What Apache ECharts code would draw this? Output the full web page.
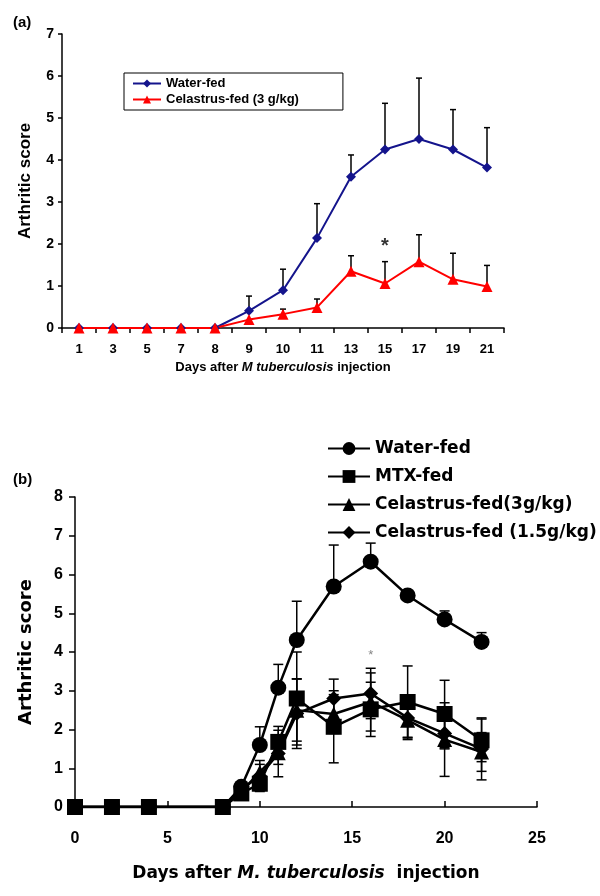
<!DOCTYPE html>
<html><head><meta charset="utf-8">
<script src="https://cdn.jsdelivr.net/npm/echarts@6/dist/echarts.min.js"></script>
<style>html,body{margin:0;padding:0;background:#fff}#c{width:600px;height:896px}</style>
</head><body><div id="c"></div>
<script>
// Panel (a)
var daysA = ['1','3','5','7','8','9','10','11','13','15','17','19','21'];
var waterA = [0,0,0,0,0,0.41,0.9,2.14,3.6,4.25,4.5,4.25,3.82];
var waterAErr = [0,0,0,0,0,0.35,0.5,0.82,0.52,1.1,1.45,0.95,0.95];
var celA = [0,0,0,0,0,0.2,0.33,0.49,1.35,1.06,1.58,1.16,0.99];
var celAErr = [0,0,0,0,0,0,0.12,0.2,0.37,0.52,0.64,0.62,0.5];
var starA = [['15', 1.95]];
var yTicksA = [0,1,2,3,4,5,6,7];
// Panel (b)
var daysB = [0,2,4,8,9,10,11,12,14,16,18,20,22];
var waterB = [0,0,0,0,0.52,1.6,3.08,4.31,5.69,6.33,5.46,4.84,4.26];
var waterBErr = [0,0,0,0,0.1,0.47,0.6,1.0,1.07,0.48,0.1,0.22,0.24];
var mtxB = [0,0,0,0,0.35,0.6,1.68,2.8,2.07,2.52,2.71,2.4,1.72];
var mtxBErr = [0,0,0,0,0.1,0.2,0.4,1.2,0.93,0.7,0.93,0.87,0.55];
var cel3B = [0,0,0,0,0.4,0.9,1.4,2.5,2.4,2.71,2.24,1.74,1.42];
var cel3BErr = [0,0,0,0,0.1,0.3,0.3,0.8,0.5,0.75,0.5,0.95,0.5];
var cel15B = [0,0,0,0,0.45,0.8,1.38,2.41,2.8,2.93,2.3,1.9,1.5];
var cel15BErr = [0,0,0,0,0.1,0.3,0.6,0.9,0.5,0.65,0.5,0.4,0.8];
var starB = [[16, 3.9]];
var xTicksB = [0,5,10,15,20,25];
var yTicksB = [0,1,2,3,4,5,6,7,8];

var F = 'Liberation Sans, Arial, sans-serif';
var V = 'DejaVu Sans, Verdana, sans-serif';
function pairs(xs, ys){ return xs.map(function(x,i){ return [x, ys[i]]; }); }
function errData(xs, ys, es){ return xs.map(function(x,i){ return [x, ys[i], es[i]]; }).filter(function(d){ return d[2] > 0; }); }
function errSeries(xi, yi, data, sym, cap){
  return {
    type:'custom', xAxisIndex:xi, yAxisIndex:yi, z:1, silent:true,
    renderItem:function(params, api){
      var x = api.value(0), y = api.value(1), e = api.value(2);
      var top = api.coord([x, y + e]);
      var bot = api.coord([x, sym ? y - e : y]);
      var st = {stroke:'#000', lineWidth:1.5, fill:null};
      var ch = [
        {type:'line', shape:{x1:top[0], y1:top[1], x2:bot[0], y2:bot[1]}, style:st},
        {type:'line', shape:{x1:top[0]-cap, y1:top[1], x2:top[0]+cap, y2:top[1]}, style:st}
      ];
      if (sym) ch.push({type:'line', shape:{x1:bot[0]-cap, y1:bot[1], x2:bot[0]+cap, y2:bot[1]}, style:st});
      return {type:'group', children:ch};
    },
    data:data
  };
}

var chart = echarts.init(document.getElementById('c'), null, {renderer:'canvas'});
chart.setOption({
  animation:false,
  backgroundColor:'#fff',
  title:[
    {text:'(a)', left:8, top:10, textStyle:{fontFamily:F, fontWeight:'bold', fontSize:15, color:'#000'}},
    {text:'(b)', left:8, top:467, textStyle:{fontFamily:F, fontWeight:'bold', fontSize:15, color:'#000'}}
  ],
  legend:[
    {data:['Water-fed','Celastrus-fed (3 g/kg)'], orient:'vertical', left:124, top:73,
     padding:[4,44,4,8], itemGap:3, itemWidth:28, itemHeight:10,
     borderColor:'#000', borderWidth:1, backgroundColor:'#fff',
     textStyle:{fontFamily:F, fontWeight:'bold', fontSize:13, color:'#000'}},
    {data:['Water-fed ','MTX-fed','Celastrus-fed(3g/kg)','Celastrus-fed (1.5g/kg)'], orient:'vertical', left:322, top:435,
     itemGap:11, itemWidth:42, itemHeight:16,
     textStyle:{fontFamily:V, fontWeight:'bold', fontSize:17, color:'#000'}}
  ],
  grid:[
    {left:62, top:34, width:442, height:294},
    {left:75, top:497, width:462, height:310}
  ],
  xAxis:[
    {type:'category', gridIndex:0, data:daysA, boundaryGap:true,
     axisLine:{lineStyle:{color:'#000', width:1.5}},
     axisTick:{show:true, alignWithLabel:false, length:5, lineStyle:{color:'#000', width:1.5}},
     axisLabel:{color:'#000', fontFamily:F, fontWeight:'bold', fontSize:13, margin:15},
     name:'{b|Days after }{i|M tuberculosis}{b| injection}', nameLocation:'middle', nameGap:33,
     nameTextStyle:{rich:{b:{fontFamily:F, fontWeight:'bold', fontSize:13, color:'#000'}, i:{fontFamily:F, fontWeight:'bold', fontStyle:'italic', fontSize:13, color:'#000'}}}},
    {type:'value', gridIndex:1, min:0, max:25, interval:5,
     axisLine:{lineStyle:{color:'#000', width:1.5}},
     axisTick:{show:true, inside:true, length:6, lineStyle:{color:'#000', width:1.5}},
     splitLine:{show:false},
     axisLabel:{color:'#000', fontFamily:F, fontWeight:'bold', fontSize:16, margin:24},
     name:'{b|Days after }{i|M. tuberculosis}{b|  injection}', nameLocation:'middle', nameGap:58,
     nameTextStyle:{rich:{b:{fontFamily:V, fontWeight:'bold', fontSize:17, color:'#000'}, i:{fontFamily:V, fontWeight:'bold', fontStyle:'italic', fontSize:17, color:'#000'}}}}
  ],
  yAxis:[
    {type:'value', gridIndex:0, min:0, max:7, interval:1,
     axisLine:{show:true, lineStyle:{color:'#000', width:1.5}},
     axisTick:{show:true, length:4, lineStyle:{color:'#000', width:1.5}},
     splitLine:{show:false},
     axisLabel:{color:'#000', fontFamily:F, fontWeight:'bold', fontSize:14, margin:8},
     name:'Arthritic score', nameLocation:'middle', nameGap:28,
     nameTextStyle:{fontFamily:F, fontWeight:'bold', fontSize:17, color:'#000'}},
    {type:'value', gridIndex:1, min:0, max:8, interval:1,
     axisLine:{show:true, lineStyle:{color:'#000', width:1.5}},
     axisTick:{show:true, length:6, lineStyle:{color:'#000', width:1.5}},
     splitLine:{show:false},
     axisLabel:{color:'#000', fontFamily:F, fontWeight:'bold', fontSize:16, margin:12},
     name:'Arthritic score', nameLocation:'middle', nameGap:40,
     nameTextStyle:{fontFamily:V, fontWeight:'bold', fontSize:18, color:'#000'}}
  ],
  series:[
    errSeries(0,0, errData(daysA, waterA, waterAErr), false, 3),
    errSeries(0,0, errData(daysA, celA, celAErr), false, 3),
    {name:'Water-fed', type:'line', xAxisIndex:0, yAxisIndex:0, data:waterA, z:3,
     symbol:'diamond', symbolSize:10, color:'#14148c', lineStyle:{color:'#14148c', width:2}, itemStyle:{color:'#14148c'}},
    {name:'Celastrus-fed (3 g/kg)', type:'line', xAxisIndex:0, yAxisIndex:0, data:celA, z:3,
     symbol:'triangle', symbolSize:11, color:'#ff0000', lineStyle:{color:'#ff0000', width:2}, itemStyle:{color:'#ff0000'}},
    {type:'scatter', xAxisIndex:0, yAxisIndex:0, data:starA, symbolSize:0, silent:true,
     label:{show:true, position:'inside', formatter:'*', fontFamily:F, fontWeight:'bold', fontSize:20, color:'#000'}},

    errSeries(1,1, errData(daysB, waterB, waterBErr), false, 5),
    errSeries(1,1, errData(daysB, cel3B, cel3BErr), true, 5),
    errSeries(1,1, errData(daysB, cel15B, cel15BErr), true, 5),
    errSeries(1,1, errData(daysB, mtxB, mtxBErr), true, 5),
    {name:'Water-fed ', type:'line', xAxisIndex:1, yAxisIndex:1, data:pairs(daysB, waterB), z:3,
     symbol:'circle', symbolSize:16, color:'#000', lineStyle:{color:'#000', width:2.5}, itemStyle:{color:'#000'}},
    {name:'Celastrus-fed(3g/kg)', type:'line', xAxisIndex:1, yAxisIndex:1, data:pairs(daysB, cel3B), z:3,
     symbol:'triangle', symbolSize:15, color:'#000', lineStyle:{color:'#000', width:2.5}, itemStyle:{color:'#000'}},
    {name:'Celastrus-fed (1.5g/kg)', type:'line', xAxisIndex:1, yAxisIndex:1, data:pairs(daysB, cel15B), z:3,
     symbol:'diamond', symbolSize:15, color:'#000', lineStyle:{color:'#000', width:2.5}, itemStyle:{color:'#000'}},
    {name:'MTX-fed', type:'line', xAxisIndex:1, yAxisIndex:1, data:pairs(daysB, mtxB), z:4,
     symbol:'rect', symbolSize:16, color:'#000', lineStyle:{color:'#000', width:2.5}, itemStyle:{color:'#000'}},
    {type:'scatter', xAxisIndex:1, yAxisIndex:1, data:starB, symbolSize:0, silent:true,
     label:{show:true, position:'inside', formatter:'*', fontFamily:F, fontSize:13, color:'#666'}}
  ]
});
</script></body></html>
